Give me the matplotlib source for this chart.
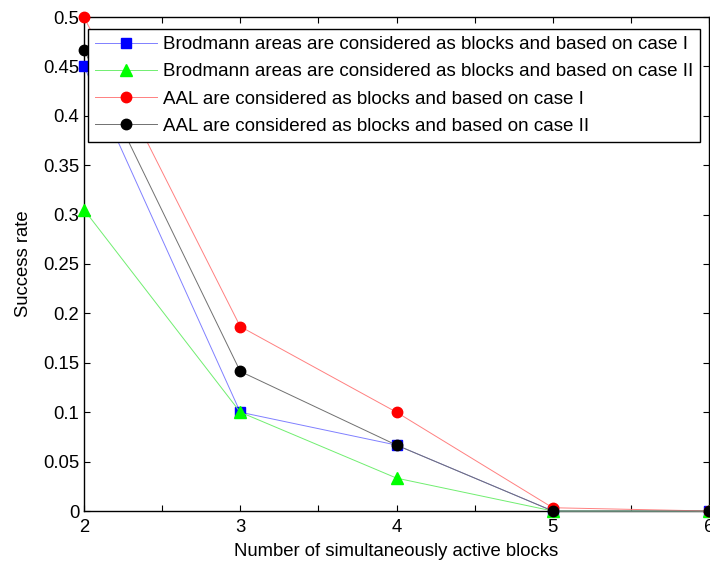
import matplotlib.pyplot as plt
from matplotlib.ticker import MultipleLocator

plt.rcParams['font.family'] = ['Liberation Sans', 'DejaVu Sans']

blocks = [2, 3, 4, 5, 6]
brod_case1 = [0.45, 0.10, 0.0667, 0.0, 0.0]
brod_case2 = [0.305, 0.10, 0.0333, 0.0, 0.0]
aal_case1 = [0.50, 0.1867, 0.10, 0.0033, 0.0]
aal_case2 = [0.4667, 0.1413, 0.0667, 0.0, 0.0]

labels = [
    'Brodmann areas are considered as blocks and based on case I',
    'Brodmann areas are considered as blocks and based on case II',
    'AAL are considered as blocks and based on case I',
    'AAL are considered as blocks and based on case II',
]

fig = plt.figure(figsize=(7.1, 5.62), dpi=100)
ax = fig.add_axes([84 / 710, 51 / 562, 625 / 710, 494 / 562])

# thin light lines, solid markers (matlab-ish look)
ax.plot(blocks, brod_case1, color='#8080ff', lw=0.7, marker='s', ms=6.5,
        mfc='#0000ff', mec='#0000ff', label=labels[0], clip_on=False, zorder=3)
ax.plot(blocks, brod_case2, color='#70ee70', lw=0.7, marker='^', ms=9,
        mfc='#00ff00', mec='#00ff00', label=labels[1], clip_on=False, zorder=3)
ax.plot(blocks, aal_case1, color='#ff8080', lw=0.7, marker='o', ms=7.5,
        mfc='#ff0000', mec='#ff0000', label=labels[2], clip_on=False, zorder=3)
ax.plot(blocks, aal_case2, color='#707070', lw=0.7, marker='o', ms=7.5,
        mfc='#000000', mec='#000000', label=labels[3], clip_on=False, zorder=4)

ax.set_xlim(2, 6)
ax.set_ylim(0, 0.5)
ax.xaxis.set_major_locator(MultipleLocator(1))
ax.xaxis.set_minor_locator(MultipleLocator(0.5))
ax.set_yticks([i * 0.05 for i in range(11)])
ax.set_yticklabels(['0', '0.05', '0.1', '0.15', '0.2', '0.25', '0.3', '0.35',
                    '0.4', '0.45', '0.5'])
ax.tick_params(which='both', direction='in', top=True, right=True,
               labelsize=13.3, length=4, width=0.8)
ax.tick_params(axis='x', pad=6)
for s in ax.spines.values():
    s.set_linewidth(1.0)

ax.set_xlabel('Number of simultaneously active blocks', fontsize=13.3, labelpad=5)
ax.set_ylabel('Success rate', fontsize=13.3, labelpad=8)

leg = ax.legend(loc='upper left', bbox_to_anchor=(88 / 710, 1 - 29 / 562),
                bbox_transform=fig.transFigure, fontsize=13.5, fancybox=False,
                framealpha=1, edgecolor='black', borderaxespad=0,
                handlelength=3.3, labelspacing=0.54, borderpad=0.38,
                handletextpad=0.3)
leg.get_frame().set_linewidth(1.0)
leg.set_zorder(5)

fig.savefig('out.png', dpi=100)
